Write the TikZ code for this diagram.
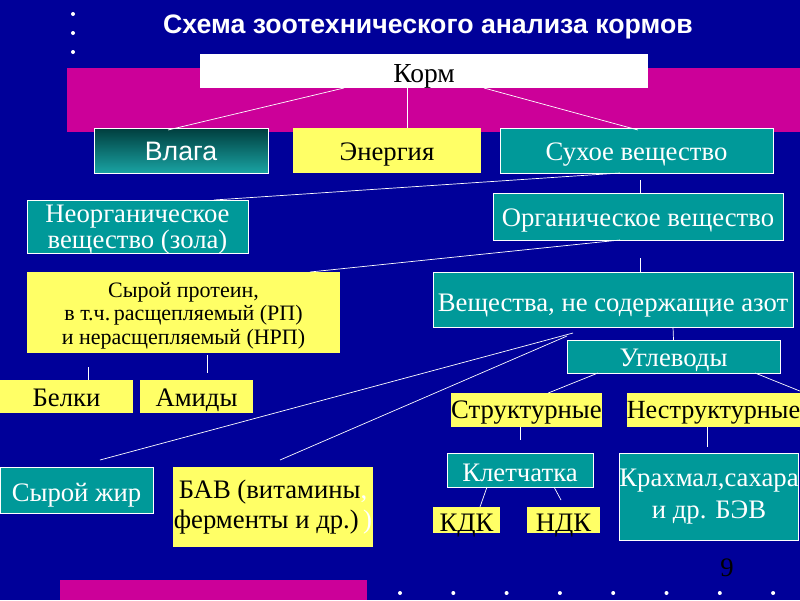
\documentclass[tikz,border=0pt]{standalone}
\usepackage{fontspec}
\setmainfont{Liberation Serif}
\newfontfamily\arialf{Liberation Sans}
\usetikzlibrary{calc}
\definecolor{bgblue}{RGB}{0,0,153}
\definecolor{mag}{RGB}{204,0,153}
\definecolor{tealc}{RGB}{0,153,153}
\definecolor{yel}{RGB}{255,255,102}
\newcommand\fbig{\fontsize{26.7}{27}\selectfont}
\begin{document}
\begin{tikzpicture}[x=1pt,y=-1pt,
  every node/.style={inner sep=0pt,outer sep=0pt},
  tbox/.style={draw=white,line width=0.8pt,fill=tealc,text=white,font=\fbig},
  ybox/.style={fill=yel,text=black,font=\fbig},
  bl/.style={text height={2*#1},text depth=0pt},
  conn/.style={draw=white,line width=0.7pt},
  dotw/.style={fill=white}]
\useasboundingbox (0,0) rectangle (800,600);
\fill[bgblue] (0,0) rectangle (800,600);
\fill[mag] (67,68) rectangle (800,132);
\fill[mag] (60,580) rectangle (367,600);
\foreach \yy in {14,33,52} \fill[dotw] (73,\yy) circle (2);
\foreach \k in {0,...,7} \fill[dotw] ({400+53.3*\k},593) circle (2);

\node[text=white,font={\arialf\bfseries\fontsize{26.7}{27}\selectfont},bl=9.5] (title) at (428,24) {Схема зоотехнического анализа кормов};

\node[fill=white,text=black,font=\fontsize{27.5}{28}\selectfont,minimum width=448,minimum height=34,bl=11] (korm) at (424,71) {Корм};
\node[draw=white,line width=0.8pt,top color=tealc!40!black,bottom color=tealc!90!white,text=white,font={\arialf\fontsize{26.7}{27}\selectfont},minimum width=174,minimum height=45,bl=10] (vlaga) at (181,150.5) {Влага};
\node[ybox,minimum width=188,minimum height=45,bl=10] (energy) at (387,150.5) {Энергия};
\node[tbox,minimum width=273,minimum height=45,bl=10] (suhoe) at (636.5,150.5) {Сухое вещество};
\node[tbox,minimum width=221,minimum height=53] (neorg) at (137.5,226.5) {};
\node[text=white,align=center,font=\fontsize{26.7}{26}\selectfont] (neorgT) at ([yshift=-3pt]neorg.center) {Неорганическое\\вещество (зола)};
\node[tbox,minimum width=290,minimum height=47,bl=9.5] (org) at (638,216.5) {Органическое вещество};
\node[ybox,minimum width=313,minimum height=81] (prot) at (183.5,312.5) {};
\node[text=black,align=center,font=\fontsize{22}{23.5}\selectfont] (protT) at ([yshift=-3pt]prot.center) {Сырой протеин,\\в т.ч.\,расщепляемый (РП)\\и нерасщепляемый (НРП)};
\node[tbox,minimum width=360,minimum height=55,bl=11.5] (vesh) at (613,299.5) {Вещества, не содержащие азот};
\node[ybox,minimum width=133,minimum height=33,bl=10] (belki) at (66.5,396.5) {Белки};
\node[ybox,minimum width=113,minimum height=33,bl=10] (amidy) at (196.5,396.5) {Амиды};
\node[tbox,minimum width=213,minimum height=33,bl=10] (ugl) at (673.5,356.5) {Углеводы};
\node[ybox,minimum width=147,minimum height=34,bl=8] (str) at (526.5,410) {Структурные};
\node[ybox,minimum width=173,minimum height=34,bl=8,font=\fontsize{26.2}{27}\selectfont] (nestr) at (713.5,410) {Неструктурные};
\node[tbox,minimum width=146,minimum height=34,bl=11.5] (klet) at (520,470) {Клетчатка};
\node[ybox,minimum width=67,minimum height=26,bl=11.5] (kdk) at (466.5,520) {КДК};
\node[ybox,minimum width=73,minimum height=26,bl=11.5] (ndk) at (563.5,520) {НДК};
\node[tbox,minimum width=178,minimum height=87,align=center,font=\fontsize{26.7}{32}\selectfont] (krah) at (709,496.5) {Крахмал,сахара\\и др. БЭВ};
\node[tbox,minimum width=153,minimum height=46,bl=11.5] (zhir) at (76.5,490) {Сырой жир};
\node[ybox,minimum width=200,minimum height=80,align=center,font=\fontsize{26.7}{30}\selectfont] (bav) at (273,507) {БАВ (витамины\textcolor{white}{,}\\ферменты и др.)\textcolor{white}{\,)}};
\node[text=black,font=\fbig] (pnum) at (727,568) {9};

\draw[conn] ([xshift=144pt]korm.south west) -- ([xshift=74pt,yshift=-2pt]vlaga.north west);
\draw[conn] ([xshift=-17pt]korm.south) -- ([xshift=20pt]energy.north);
\draw[conn] ([xshift=284pt]korm.south west) -- ([xshift=138pt,yshift=-2pt]suhoe.north west);
\draw[conn] ([xshift=120pt]suhoe.south west) -- ([xshift=187pt]neorg.north west);
\draw[conn] ([xshift=3.5pt,yshift=-7pt]suhoe.south) -- ([xshift=2pt]org.north);
\draw[conn] ([xshift=127pt]org.south west) -- ([xshift=283pt]prot.north west);
\draw[conn] ([xshift=2pt,yshift=-18pt]org.south) -- ([xshift=27pt]vesh.north);
\draw[conn] ([xshift=61pt,yshift=-14pt]prot.south west) -- ([xshift=88pt]belki.north west);
\draw[conn] ([xshift=180pt,yshift=-2pt]prot.south west) -- ([xshift=67pt,yshift=7pt]amidy.north west);
\draw[conn] ([xshift=140pt,yshift=-6pt]vesh.south west) -- ([xshift=100pt,yshift=7pt]zhir.north west);
\draw[conn] ([xshift=134pt,yshift=-9pt]vesh.south west) -- ([xshift=107pt,yshift=7pt]bav.north west);
\draw[conn] ([xshift=60pt]vesh.south) -- (ugl.north);
\draw[conn] ([xshift=31pt]ugl.south west) -- ([xshift=97pt]str.north west);
\draw[conn] ([xshift=188pt]ugl.south west) -- ([xshift=173pt,yshift=2pt]nestr.north west);
\draw[conn] ([xshift=-6.5pt]str.south) -- ([yshift=13pt]klet.north);
\draw[conn] ([xshift=-6.5pt]nestr.south) -- ([xshift=-2pt,yshift=6pt]krah.north);
\draw[conn] ([xshift=40pt]klet.south west) -- ([xshift=47pt]kdk.north west);
\draw[conn] ([xshift=107pt]klet.south west) -- ([xshift=34pt,yshift=7pt]ndk.north west);
\end{tikzpicture}
\end{document}
